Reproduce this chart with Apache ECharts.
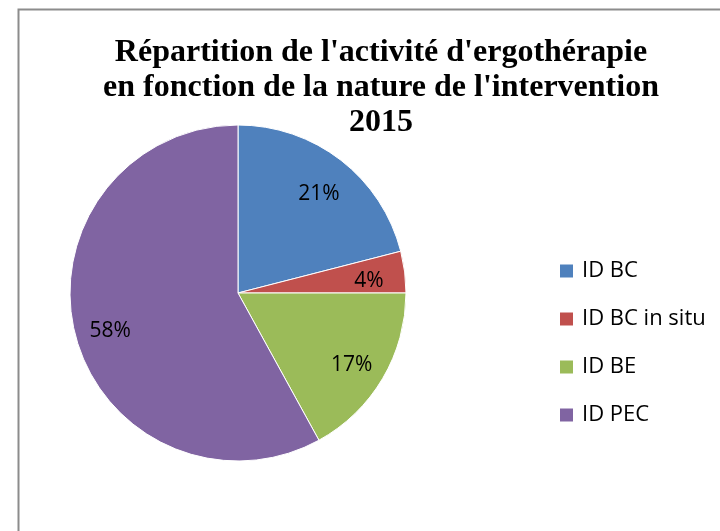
<!DOCTYPE html>
<html>
<head>
<meta charset="utf-8">
<script src="https://cdn.jsdelivr.net/npm/echarts@6/dist/echarts.min.js"></script>
<style>
html,body{margin:0;padding:0;background:#fff;}
#chart{width:720px;height:531px;}
</style>
</head>
<body>
<div id="chart"></div>
<script>
var titleText = "Répartition de l'activité d'ergothérapie\nen fonction de la nature de l'intervention\n2015";
var categories = ['ID BC', 'ID BC in situ', 'ID BE', 'ID PEC'];
var values = [21, 4, 17, 58];
var colors = ['#4F81BD', '#C0504D', '#9BBB59', '#8064A2'];

var pieData = categories.map(function (c, i) {
	return { name: c, value: values[i], itemStyle: { color: colors[i] } };
});

var chart = echarts.init(document.getElementById('chart'));
chart.setOption({
	animation: false,
	title: {
		text: titleText,
		left: 376,
		top: 30,
		textAlign: 'center',
		textStyle: {
			fontFamily: 'Liberation Serif',
			fontWeight: 'bold',
			fontSize: 32,
			lineHeight: 35,
			color: '#000'
		}
	},
	legend: {
		orient: 'vertical',
		left: 553,
		top: 255,
		itemWidth: 15,
		itemHeight: 15,
		itemGap: 26,
		icon: 'rect',
		data: categories,
		textStyle: { fontFamily: 'Open Sans', fontSize: 22, lineHeight: 22, color: '#000', padding: [0, 0, 0, 3] }
	},
	// bordure de la zone du graphique (gauche et haut)
	graphic: [{
		type: 'polyline',
		shape: { points: [[18.5, 531], [18.5, 9.5], [720, 9.5]] },
		style: { stroke: '#8c8c8c', lineWidth: 2, fill: null }
	}],
	series: [{
		type: 'pie',
		center: [238, 293],
		radius: 168,
		startAngle: 90,
		clockwise: true,
		label: { show: false },
		labelLine: { show: false },
		itemStyle: { borderColor: '#fff', borderWidth: 1 },
		data: pieData
	}, {
		// série invisible pour placer les pourcentages vers l'extérieur
		type: 'pie',
		center: [238, 293],
		radius: [90, 168],
		startAngle: 90,
		silent: true,
		itemStyle: { color: 'transparent' },
		label: {
			show: true,
			position: 'inside',
			formatter: '{c}%',
			fontFamily: 'Open Sans',
			fontSize: 21,
			offset: [0, 5],
			color: '#000'
		},
		labelLine: { show: false },
		data: categories.map(function (c, i) { return { name: c, value: values[i] }; })
	}]
});
</script>
</body>
</html>
